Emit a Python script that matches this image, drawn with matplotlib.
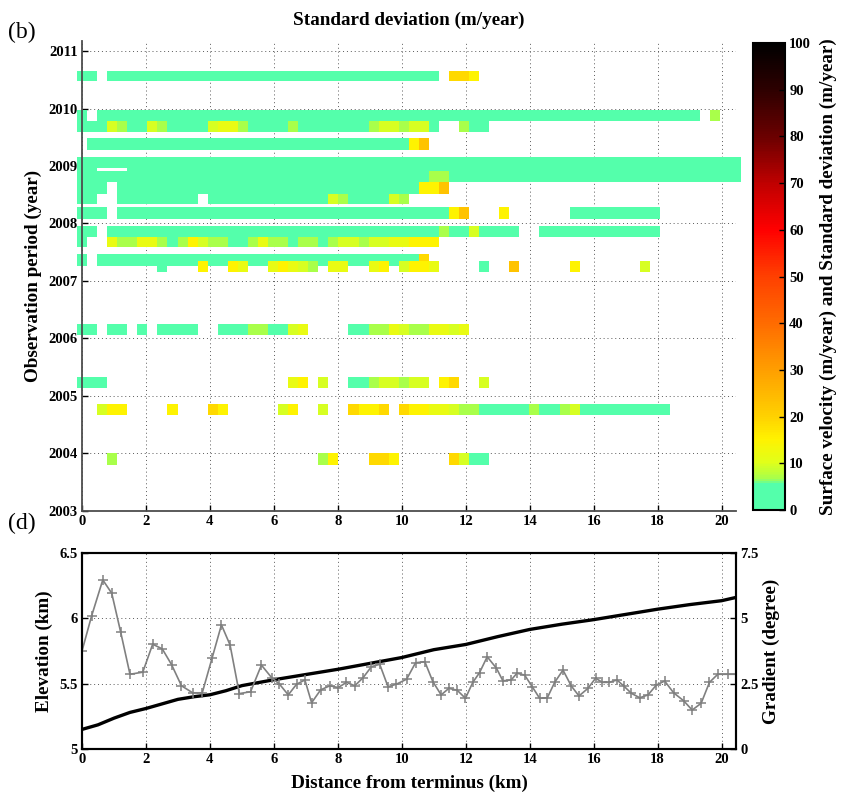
import matplotlib
matplotlib.use("Agg")
import matplotlib.pyplot as plt
import numpy as np
from matplotlib.colors import LinearSegmentedColormap
from matplotlib.cm import ScalarMappable
from matplotlib.colors import Normalize

plt.rcParams.update({"font.family": "Liberation Serif", "font.weight": "bold",
                     "axes.labelweight": "bold", "font.size": 10})

# ---- panel (b): standard deviation along the profile, per observation period
CELL_KM = 0.3144          # along-profile bin spacing
N_CELLS = 66

# std-dev classes (m/year) used in the row tables below
LEVEL = {"g": 2.5, "l": 7.0, "m": 9.5, "y": 11.5, "Y": 15.0, "o": 19.0, "O": 23.0}

# observation periods (decimal year start, end)
PERIODS = [
    (2010.48, 2010.66), (2009.78, 2009.97), (2009.59, 2009.78), (2009.27, 2009.48),
    (2008.96, 2009.16), (2008.91, 2008.96), (2008.72, 2008.91), (2008.52, 2008.72),
    (2008.34, 2008.52), (2008.08, 2008.28), (2007.77, 2007.96), (2007.59, 2007.77),
    (2007.26, 2007.46), (2007.15, 2007.34), (2006.06, 2006.25), (2005.14, 2005.33),
    (2004.67, 2004.86), (2003.80, 2004.00),
]

# runs of bins (first, last, class) for each period
RUNS = [
    [(0, 1, "g"), (3, 35, "g"), (37, 38, "o"), (39, 39, "Y")],
    [(0, 0, "g"), (2, 61, "g"), (63, 63, "l")],
    [(0, 2, "g"), (3, 3, "m"), (4, 4, "l"), (5, 6, "g"), (7, 7, "m"), (8, 8, "l"),
     (9, 12, "g"), (13, 13, "m"), (14, 15, "y"), (16, 16, "l"), (17, 20, "g"),
     (21, 21, "l"), (22, 28, "g"), (29, 29, "l"), (30, 31, "m"), (32, 32, "l"),
     (33, 34, "m"), (35, 35, "g"), (38, 38, "l"), (39, 40, "g")],
    [(1, 32, "g"), (33, 33, "Y"), (34, 34, "O")],
    [(0, 65, "g")],
    [(0, 1, "g"), (5, 65, "g")],
    [(0, 34, "g"), (35, 36, "l"), (37, 65, "g")],
    [(0, 2, "g"), (4, 33, "g"), (34, 35, "Y"), (36, 36, "O")],
    [(0, 1, "g"), (4, 11, "g"), (13, 24, "g"), (25, 25, "m"), (26, 26, "l"),
     (27, 30, "g"), (31, 31, "m"), (32, 32, "l")],
    [(0, 2, "g"), (4, 36, "g"), (37, 37, "Y"), (38, 38, "O"), (42, 42, "Y"), (49, 57, "g")],
    [(0, 1, "g"), (3, 35, "g"), (36, 36, "l"), (37, 38, "g"), (39, 39, "m"),
     (40, 43, "g"), (46, 57, "g")],
    [(0, 0, "g"), (3, 3, "y"), (4, 5, "l"), (6, 7, "y"), (8, 8, "l"), (9, 9, "g"),
     (10, 10, "l"), (11, 11, "Y"), (12, 12, "m"), (13, 14, "l"), (15, 16, "g"),
     (17, 17, "l"), (18, 18, "y"), (19, 20, "l"), (21, 21, "g"), (22, 23, "l"),
     (24, 24, "g"), (25, 25, "l"), (26, 27, "m"), (28, 28, "l"), (29, 30, "m"),
     (31, 32, "y"), (33, 35, "Y")],
    [(0, 0, "g"), (2, 33, "g"), (34, 34, "o")],
    [(8, 8, "g"), (12, 12, "Y"), (15, 15, "Y"), (16, 16, "y"), (19, 19, "y"),
     (20, 20, "Y"), (21, 21, "y"), (22, 22, "m"), (23, 23, "l"), (25, 26, "y"),
     (29, 29, "y"), (30, 30, "Y"), (32, 32, "m"), (33, 34, "Y"), (35, 35, "y"),
     (40, 40, "g"), (43, 43, "O"), (49, 49, "Y"), (56, 56, "m")],
    [(0, 1, "g"), (3, 4, "g"), (6, 6, "g"), (8, 11, "g"), (14, 16, "g"), (17, 18, "l"),
     (19, 20, "g"), (21, 21, "m"), (22, 22, "y"), (27, 28, "g"), (29, 30, "l"),
     (31, 31, "y"), (32, 32, "m"), (33, 34, "l"), (35, 36, "y"), (37, 37, "m"),
     (38, 38, "y")],
    [(0, 2, "g"), (21, 21, "y"), (22, 22, "Y"), (24, 24, "m"), (27, 28, "g"),
     (29, 29, "l"), (30, 31, "m"), (32, 32, "l"), (33, 34, "m"), (36, 36, "Y"),
     (37, 37, "o"), (40, 40, "m")],
    [(2, 2, "m"), (3, 4, "Y"), (9, 9, "Y"), (13, 13, "o"), (14, 14, "Y"), (20, 20, "m"),
     (21, 21, "Y"), (24, 24, "m"), (27, 27, "o"), (28, 29, "Y"), (30, 30, "o"),
     (32, 32, "o"), (33, 34, "Y"), (35, 36, "y"), (37, 37, "m"), (38, 39, "l"),
     (40, 44, "g"), (45, 45, "l"), (46, 47, "g"), (48, 48, "l"), (49, 49, "m"),
     (50, 58, "g")],
    [(3, 3, "l"), (24, 24, "l"), (25, 25, "Y"), (29, 30, "o"), (31, 31, "Y"),
     (37, 37, "o"), (38, 38, "m"), (39, 40, "g")],
]

# ---- panel (d): elevation and surface gradient profiles
ELEV_X = [0, 0.5, 1, 1.5, 2, 2.5, 3, 3.5, 4, 4.5, 5, 6, 7, 8, 9, 10, 11, 12, 13,
          14, 15, 16, 17, 18, 19, 20, 20.45]
ELEV_KM = [5.15, 5.185, 5.236, 5.28, 5.31, 5.345, 5.38, 5.40, 5.415, 5.446, 5.485,
           5.53, 5.57, 5.61, 5.655, 5.70, 5.76, 5.80, 5.86, 5.915, 5.955, 5.99,
           6.03, 6.07, 6.105, 6.135, 6.16]

GRAD_X = [0.0, 0.30, 0.65, 0.93, 1.21, 1.50, 1.90, 2.21, 2.51, 2.80, 3.11, 3.46,
          3.76, 4.07, 4.36, 4.63, 4.92, 5.27, 5.61, 5.93, 6.17, 6.45, 6.71, 6.97,
          7.18, 7.46, 7.75, 8.01, 8.27, 8.53, 8.79, 9.05, 9.31, 9.57, 9.83, 10.15,
          10.43, 10.72, 10.97, 11.23, 11.47, 11.73, 11.99, 12.22, 12.43, 12.67,
          12.96, 13.16, 13.42, 13.60, 13.84, 14.08, 14.31, 14.55, 14.78, 15.04,
          15.30, 15.54, 15.82, 16.06, 16.27, 16.48, 16.73, 16.94, 17.18, 17.44,
          17.70, 17.96, 18.22, 18.50, 18.81, 19.08, 19.36, 19.62, 19.88, 20.19, 20.5]
GRAD_DEG = [3.75, 5.09, 6.47, 5.96, 4.47, 2.86, 2.94, 4.01, 3.83, 3.23, 2.42, 2.15,
            2.15, 3.49, 4.75, 3.98, 2.12, 2.19, 3.21, 2.73, 2.49, 2.07, 2.48, 2.64,
            1.77, 2.26, 2.42, 2.35, 2.55, 2.42, 2.73, 3.15, 3.24, 2.38, 2.48, 2.67,
            3.30, 3.34, 2.58, 2.07, 2.32, 2.25, 1.94, 2.55, 2.92, 3.53, 3.09, 2.61,
            2.64, 2.90, 2.83, 2.38, 1.94, 1.96, 2.55, 3.02, 2.41, 2.03, 2.32, 2.71,
            2.55, 2.55, 2.64, 2.41, 2.13, 1.96, 2.07, 2.45, 2.60, 2.15, 1.85, 1.49,
            1.75, 2.55, 2.86, 2.86, 2.86]

# green below ~5 m/yr, then yellow -> orange -> red -> black
CMAP = LinearSegmentedColormap.from_list("sd", [
    (0.00, (0.33, 1.0, 0.67)), (0.055, (0.33, 1.0, 0.67)), (0.065, (0.65, 1.0, 0.30)),
    (0.10, (0.88, 1.0, 0.10)), (0.15, (1.0, 0.95, 0.0)), (0.20, (1.0, 0.82, 0.0)),
    (0.30, (1.0, 0.62, 0.0)), (0.40, (1.0, 0.42, 0.0)), (0.50, (1.0, 0.25, 0.0)),
    (0.60, (1.0, 0.0, 0.0)), (0.70, (0.75, 0.0, 0.0)), (0.80, (0.42, 0.0, 0.0)),
    (0.90, (0.18, 0.0, 0.0)), (1.00, (0.0, 0.0, 0.0))])
NORM = Normalize(0, 100)
GRID = dict(linestyle=(0, (1, 3)), color="0.35", linewidth=0.7)
LABEL_SIZE = 13.8
TICK_SIZE = 10.5

W, H = 841, 793
fig = plt.figure(figsize=(W / 100, H / 100), dpi=100)


def px_axes(x0, y0, x1, y1):
    return fig.add_axes([x0 / W, 1 - y1 / H, (x1 - x0) / W, (y1 - y0) / H])


# ---------------- panel (b)
ax = px_axes(82, 40.7, 736, 510.8)
x_edges = (np.arange(N_CELLS + 1) - 0.5) * CELL_KM
for (t0, t1), runs in zip(PERIODS, RUNS):
    vals = np.full(N_CELLS, np.nan)
    for a, b, c in runs:
        vals[a:b + 1] = LEVEL[c]
    qm = ax.pcolormesh(x_edges, [t0, t1], np.ma.masked_invalid(vals[None, :]),
                       cmap=CMAP, norm=NORM, shading="flat")
    qm.set_clip_on(False)

ax.set_xlim(0, 20.45)
ax.set_ylim(2003, 2011.18)
ax.set_xticks(range(0, 21, 2))
ax.set_yticks(range(2003, 2012))
ax.set_axisbelow(True)
ax.grid(True, **GRID)
for s in ("top", "right"):
    ax.spines[s].set_visible(False)
for s in ("left", "bottom"):
    ax.spines[s].set_linewidth(1.3)
    ax.spines[s].set_color("0.3")
ax.tick_params(direction="in", length=4, width=1, labelsize=TICK_SIZE, pad=3)
ax.set_ylabel("Observation period (year)", fontsize=LABEL_SIZE)
ax.yaxis.set_label_coords(-0.061, 0.5)
fig.text(409 / W, 1 - 20 / H, "Standard deviation (m/year)", ha="center",
         va="center", fontsize=LABEL_SIZE)
fig.text(8 / W, 1 - 32 / H, "(b)", ha="left", va="center", fontsize=17,
         fontweight="normal")

# colour bar
cax = px_axes(752.7, 43, 785, 510)
cb = fig.colorbar(ScalarMappable(norm=NORM, cmap=CMAP), cax=cax,
                  ticks=range(0, 101, 10))
cb.outline.set_linewidth(1.5)
cax.tick_params(direction="in", length=4, width=1, labelsize=TICK_SIZE, pad=3)
cb.set_label("Surface velocity (m/year) and Standard deviation (m/year)",
             fontsize=LABEL_SIZE)
cax.yaxis.set_label_coords(2.08, 0.5)

# ---------------- panel (d)
bx = px_axes(82, 553, 736, 749)
bx.plot(ELEV_X, ELEV_KM, color="k", lw=2.4, zorder=3)
bx.set_xlim(0, 20.45)
bx.set_ylim(5, 6.5)
bx.set_xticks(range(0, 21, 2))
bx.set_yticks([5, 5.5, 6, 6.5])
bx.set_yticklabels(["5", "5.5", "6", "6.5"])
bx.grid(True, **GRID)
bx.tick_params(direction="in", length=4, width=1, labelsize=TICK_SIZE, pad=3)
for s in bx.spines.values():
    s.set_linewidth(1.5)
bx.set_xlabel("Distance from terminus (km)", fontsize=LABEL_SIZE, labelpad=6)
bx.set_ylabel("Elevation (km)", fontsize=LABEL_SIZE)
bx.yaxis.set_label_coords(-0.044, 0.5)

gx = bx.twinx()
gx.plot(GRAD_X, GRAD_DEG, color="0.5", lw=1.2, marker="+", ms=7, mew=1.1)
gx.set_ylim(0, 7.5)
gx.set_yticks([0, 2.5, 5, 7.5])
gx.set_yticklabels(["0", "2.5", "5", "7.5"])
gx.tick_params(direction="in", length=4, width=1, labelsize=TICK_SIZE, pad=3)
for s in gx.spines.values():
    s.set_linewidth(1.5)
gx.set_ylabel("Gradient (degree)", fontsize=LABEL_SIZE)
gx.yaxis.set_label_coords(1.041, 0.5)
fig.text(8 / W, 1 - 523 / H, "(d)", ha="left", va="center", fontsize=17,
         fontweight="normal")

fig.savefig("out.png", dpi=100)
